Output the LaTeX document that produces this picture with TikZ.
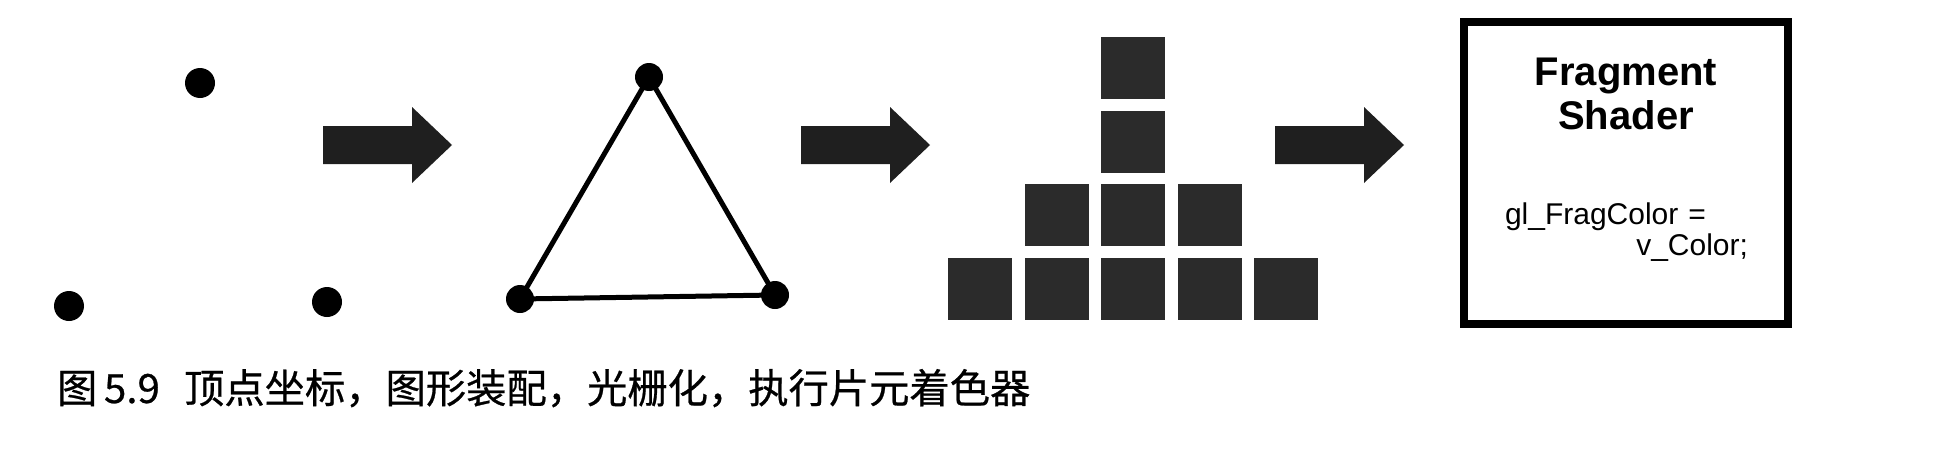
\documentclass[tikz,border=0pt]{standalone}
\usepackage{fontspec}
\setmainfont{Liberation Sans}
\newfontfamily\cjk[FakeBold=0.6]{Noto Sans CJK SC}
\usepackage{tikz}
\usetikzlibrary{positioning}
\usetikzlibrary{calc}

\begin{document}
\begin{tikzpicture}[x=1pt, y=-1pt,
    inner sep=0pt, outer sep=0pt,%
    vertex/.style={circle, fill=black, minimum size=30pt},
    pixel/.style={fill=pixelgray, minimum width=64pt, minimum height=62pt},
    stagearrow/.style={fill=arrowgray},
    edge/.style={line width=5pt},
]
    % Colors
    \colorlet{pixelgray}{black!83}
    \colorlet{arrowgray}{black!88}

    \useasboundingbox (0,0) rectangle (1936,458);

    % Vertex positions
    \node[vertex] (p1) at (200, 83)  {};
    \node[vertex] (p2) at (69, 306)  {};
    \node[vertex] (p3) at (327, 302) {};

    % Primitive assembly
    \node[vertex, minimum size=28pt] (a) at (649, 77)  {};
    \node[vertex, minimum size=28pt] (b) at (520, 299) {};
    \node[vertex, minimum size=28pt] (c) at (775, 295) {};
    \draw[edge] (a.center) -- (b.center) -- (c.center) -- cycle;

    % Rasterization
    \foreach \col/\row in {2/0, 2/1, 1/2, 2/2, 3/2, 0/3, 1/3, 2/3, 3/3, 4/3}
        \node[pixel] (px-\col-\row) at ({980 + 76.5*\col}, {68 + 73.5*\row}) {};

    % Arrows between the stages
    \foreach \x in {323, 801, 1275}{
        \fill[stagearrow] (\x, 126) -- (\x+89, 126) -- (\x+89, 107) -- (\x+129, 145)
            -- (\x+89, 183) -- (\x+89, 164) -- (\x, 164) -- cycle;
    }

    % Fragment shader
    \draw[line width=8pt] (1464, 22) rectangle (1788, 324);
    \node[anchor=north, align=center, font=\fontsize{40}{44}\selectfont\bfseries]
        (title) at (1626, 58) {Fragment\\Shader};
    \node[anchor=north west, text width=243pt, align=left, font=\fontsize{30}{31}\selectfont]
        (code) at (1505, 203) {gl\_FragColor =\\\hfill v\_Color;};

    % Caption
    \node[anchor=base west, font=\cjk\fontsize{40.3}{40.3}\selectfont]
        (caption) at (57, 403) {图\,5.9\hspace{0.6em}顶点坐标，图形装配，光栅化，执行片元着色器};

\end{tikzpicture}
\end{document}
